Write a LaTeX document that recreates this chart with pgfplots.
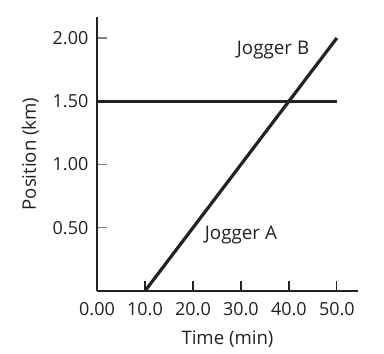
\documentclass[border=0pt]{standalone}
\usepackage{fontspec}
\setmainfont{Open Sans}
\usepackage{pgfplots}
\pgfplotsset{compat=1.18}
\definecolor{ink}{HTML}{222222}
\begin{document}
\begin{tikzpicture}
\useasboundingbox (-48.5pt,-31pt) rectangle (143.5pt,145.5pt);
\begin{axis}[
  at={(0,0)}, anchor=south west,
  scale only axis, width=130.5pt, height=137pt,
  xmin=0, xmax=54.4, ymin=0, ymax=2.166,
  axis lines=left, axis line style={line width=1pt, color=ink, -},
  tick align=inside, major tick length=5pt,
  xtick={0,10,20,30,40,50}, xticklabels={0.00,10.0,20.0,30.0,40.0,50.0},
  ytick={0.5,1,1.5,2}, yticklabels={0.50,1.00,1.50,2.00},
  x tick style={color=ink, line width=0.6pt},
  y tick style={color=gray, line width=0.6pt},
  tick label style={font=\fontsize{9}{10.8}\selectfont, color=ink},
  xticklabel style={yshift=-2.4pt},
  yticklabel style={xshift=-0.8pt},
  label style={font=\fontsize{9.3}{11}\selectfont, color=ink},
  xlabel={Time (min)}, ylabel={Position (km)},
  xlabel style={yshift=-0.5pt},
  ylabel style={yshift=0pt},
  clip=false,
]
\addplot[ink, line width=1.6pt] coordinates {(10,0) (50,2.0)};
\addplot[ink, line width=1.6pt] coordinates {(0,1.5) (50,1.5)};
\node[font=\fontsize{9.4}{11}\selectfont, color=ink] at (axis cs:36.7,1.905) {Jogger B};
\node[font=\fontsize{9.4}{11}\selectfont, color=ink] at (axis cs:30.0,0.443) {Jogger A};
\end{axis}
\end{tikzpicture}
\end{document}
